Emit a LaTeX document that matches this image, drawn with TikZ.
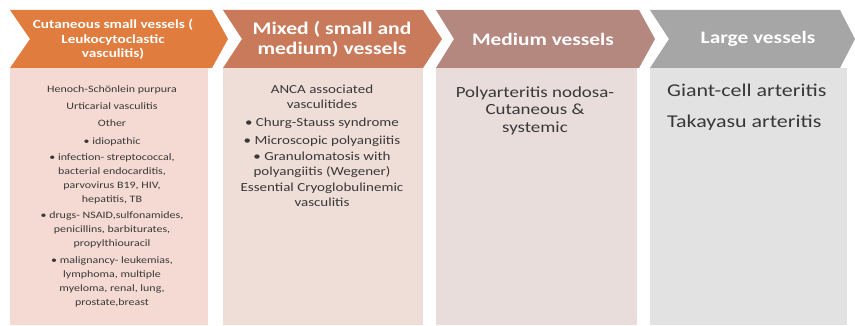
\documentclass[tikz,border=0pt]{standalone}
\usepackage{fontspec}
\setmainfont{Carlito}[FakeStretch=1.22]
\definecolor{chA}{HTML}{E07D3E}
\definecolor{chB}{HTML}{C97A5B}
\definecolor{chC}{HTML}{B4877F}
\definecolor{chD}{HTML}{A6A6A6}
\definecolor{bdA}{HTML}{F4DAD2}
\definecolor{bdB}{HTML}{EFDED8}
\definecolor{bdC}{HTML}{E8DDDB}
\definecolor{bdD}{HTML}{E2E2E2}
\tikzset{
  hdr/.style={text=white, font=\bfseries, align=center, inner sep=0pt},
  bodytext/.style={text=black!78, align=center, inner sep=0pt},
}
\begin{document}
\begin{tikzpicture}[x=1pt,y=-1pt]
\useasboundingbox (0,0) rectangle (855,326);
% bodies
\fill[bdA] (10,68) rectangle (208,325);
\fill[bdB] (223,68) rectangle (423,325);
\fill[bdC] (436,68) rectangle (637,325);
\fill[bdD] (650,68) rectangle (847,325);
% chevrons
\fill[chA] (10,10) -- (212,10) -- (228,39) -- (212,68) -- (10,68) -- (30,39) -- cycle;
\fill[chB] (223,10) -- (423,10) -- (442,39) -- (423,68) -- (223,68) -- (242,39) -- cycle;
\fill[chC] (436,10) -- (639,10) -- (655,39) -- (639,68) -- (436,68) -- (454,39) -- cycle;
\fill[chD] (650,10) -- (840,10) -- (855,39) -- (840,68) -- (650,68) -- (669,39) -- cycle;
% header texts
\node[hdr, font=\bfseries\fontsize{12.5}{14.5}\selectfont] (h1) at (113,39.5)
  {Cutaneous small vessels (\\Leukocytoclastic\\vasculitis)};
\node[hdr, font=\bfseries\fontsize{17.7}{20}\selectfont] (h2) at (332,39)
  {Mixed ( small and\\medium) vessels};
\node[hdr, font=\bfseries\fontsize{17.5}{19}\selectfont] (h3) at (543,39) {Medium vessels};
\node[hdr, font=\bfseries\fontsize{17.5}{19}\selectfont] (h4) at (758,39) {Large vessels};
% body texts
\node[bodytext, font=\fontsize{9.8}{14}\selectfont] (b1) at (112,196)
  {Henoch-Schönlein purpura\\[3pt]
   Urticarial vasculitis\\[3pt]
   Other\\[4pt]
   \textbullet\ idiopathic\\[2pt]
   \textbullet\ infection- streptococcal,\\
   bacterial endocarditis,\\
   parvovirus B19, HIV,\\
   hepatitis, TB\\[2pt]
   \textbullet\ drugs- NSAID,sulfonamides,\\
   penicillins, barbiturates,\\
   propylthiouracil\\[3pt]
   \textbullet\ malignancy- leukemias,\\
   lymphoma, multiple\\
   myeloma, renal, lung,\\
   prostate,breast};
\node[bodytext, font=\fontsize{12.3}{14.5}\selectfont] (b2) at (322,146)
  {ANCA associated\\
   vasculitides\\[4pt]
   \textbullet\ Churg-Stauss syndrome\\[3pt]
   \textbullet\ Microscopic polyangiitis\\[2pt]
   \textbullet\ Granulomatosis with\\
   polyangiitis (Wegener)\\[2pt]
   Essential Cryoglobulinemic\\
   vasculitis};
\node[bodytext, font=\fontsize{15.5}{17.5}\selectfont] (b3) at (535,110.5)
  {Polyarteritis nodosa-\\Cutaneous \&\\systemic};
\node[bodytext, align=left, anchor=west, font=\fontsize{18}{19}\selectfont] (b4) at (667,107.5)
  {Giant-cell arteritis\\[12pt]Takayasu arteritis};
\end{tikzpicture}
\end{document}
